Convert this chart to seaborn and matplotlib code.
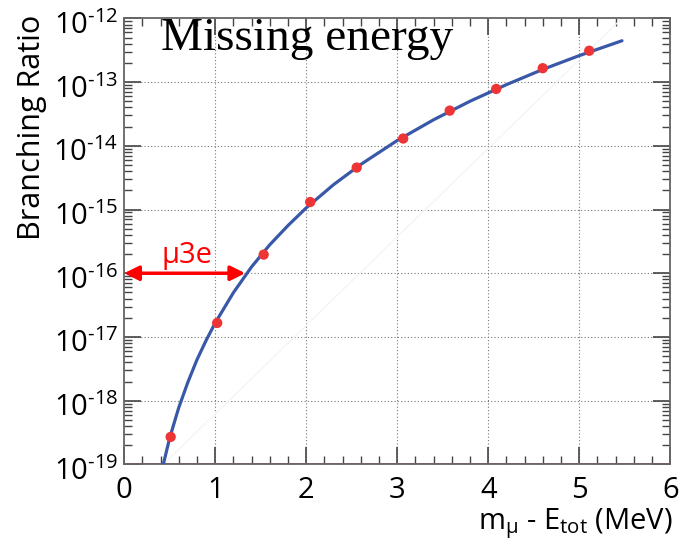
import numpy as np
import pandas as pd
import matplotlib
matplotlib.use("Agg")
import matplotlib.pyplot as plt
import matplotlib.ticker as mticker
import matplotlib.transforms as mtransforms
import seaborn as sns

# measured points (red dots)
point_x = [0.511, 1.022, 1.533, 2.044, 2.555, 3.066, 3.577, 4.088, 4.599, 5.11]
point_br = [2.7e-19, 1.66e-17, 1.96e-16, 1.31e-15, 4.55e-15, 1.3e-14, 3.56e-14, 7.8e-14, 1.65e-13, 3.1e-13]

# blue curve
curve_x = [0.43, 0.5, 0.6, 0.7, 0.8, 0.9, 1.0, 1.2, 1.4, 1.6, 1.8, 2.0, 2.3, 2.6, 3.0, 3.4, 3.8, 4.2, 4.6, 5.0, 5.47]
curve_br = [1.0e-19, 2.6e-19, 7.8e-19, 1.95e-18, 4.4e-18, 8.8e-18, 1.66e-17, 4.95e-17, 1.26e-16, 2.8e-16,
            5.6e-16, 1.06e-15, 2.45e-15, 5.1e-15, 1.21e-14, 2.56e-14, 5.0e-14, 9.1e-14, 1.58e-13, 2.6e-13, 4.45e-13]

# faint diagonal guide line
guide_x = [0.43, 5.47]
guide_br = [1e-19, 1e-12]

# mu -> 3e reach
arrow_x = [0.0, 1.33]
arrow_br = 1e-16
arrow_label = "μ3e"

sns.set_theme(style="ticks")
plt.rcParams["font.family"] = ["Open Sans", "DejaVu Sans"]
plt.rcParams["mathtext.fontset"] = "custom"
plt.rcParams["mathtext.rm"] = "Open Sans"
plt.rcParams["mathtext.it"] = "Open Sans"
plt.rcParams["text.color"] = "black"

fig = plt.figure(figsize=(6.86, 5.44), dpi=100)
ax = fig.add_axes([0.181, 0.1463, 0.796, 0.82])

pts = pd.DataFrame({"x": point_x, "br": point_br})
curve = pd.DataFrame({"x": curve_x, "br": curve_br})
guide = pd.DataFrame({"x": guide_x, "br": guide_br})

ax.set_yscale("log")
ax.set_xlim(0, 6)
ax.set_ylim(1e-19, 1e-12)

grid_kw = dict(color="#777777", lw=0.8, ls=(0, (1, 2)), zorder=0)
for xv in range(1, 6):
    ax.axvline(xv, **grid_kw)
for e in range(-18, -12):
    ax.axhline(10.0 ** e, **grid_kw)

sns.lineplot(data=guide, x="x", y="br", ax=ax, color="#f5f5f5", lw=1, zorder=1)
ax.axhline(1e-19, color="#e03030", lw=1.2, zorder=1)
ax.axvline(6, color="#e03030", lw=1.0, ls=(0, (1, 1)), zorder=1)

sns.lineplot(data=curve, x="x", y="br", ax=ax, color="#3a58a8", lw=2.3, zorder=3)
sns.scatterplot(data=pts, x="x", y="br", ax=ax, color="#ee3535", s=55, edgecolor="none", zorder=4)

ax.annotate("", xy=(arrow_x[1], arrow_br), xytext=(arrow_x[0], arrow_br),
            arrowprops=dict(arrowstyle="<|-|>", color="red", lw=2.5, mutation_scale=22,
                            shrinkA=0, shrinkB=0), zorder=5)
ax.text(0.69, 1.45e-16, arrow_label, color="red", fontsize=21, ha="center", va="baseline")

ax.text(0.4, 10 ** -12.5, "Missing energy", family="Liberation Serif", fontsize=34,
        color="black", va="baseline", ha="left")

# ROOT-like ticks
ax.xaxis.set_major_locator(mticker.MultipleLocator(1))
ax.xaxis.set_minor_locator(mticker.MultipleLocator(0.2))
ax.yaxis.set_major_locator(mticker.LogLocator(base=10, numticks=20))
ax.yaxis.set_major_formatter(mticker.NullFormatter())
ax.yaxis.set_minor_locator(mticker.LogLocator(base=10, subs=np.arange(2, 10), numticks=20))
ax.yaxis.set_minor_formatter(mticker.NullFormatter())
ax.tick_params(which="both", direction="in", top=True, right=True, color="#444444", labelcolor="black")
ax.tick_params(which="major", length=12, width=1.2, labelsize=21, pad=8)
ax.tick_params(which="minor", length=6, width=1.0)
for s in ax.spines.values():
    s.set_color("#666666")
    s.set_linewidth(1.3)

# y tick labels, sitting a bit below their tick like in ROOT
lab_trans = ax.get_yaxis_transform() + mtransforms.ScaledTranslation(-6 / 100, -4 / 100, fig.dpi_scale_trans)
for v in ax.get_yticks():
    if 1e-19 <= v <= 1e-12:
        e = int(round(np.log10(v)))
        ax.text(0, v, r"10$^{\text{%d}}$" % e, transform=lab_trans, fontsize=21,
                ha="right", va="center_baseline", clip_on=False, color="black")

ax.set_xlabel("")
ax.set_ylabel("")
fig.text(0.981, 0.028, r"m$_{\mu}$ - E$_{\mathrm{tot}}$ (MeV)", fontsize=21, ha="right", va="baseline")
fig.text(0.047, 0.972, "Branching Ratio", fontsize=22, rotation=90, ha="center", va="top")

fig.savefig("out.png", dpi=100)
